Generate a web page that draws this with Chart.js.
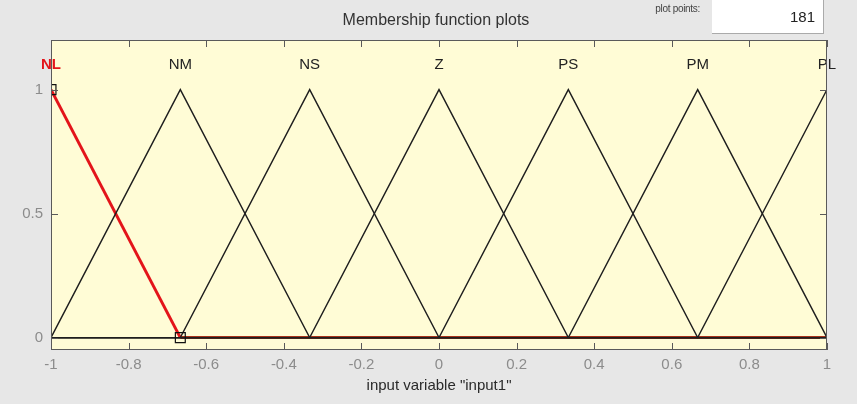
<!DOCTYPE html>
<html>
<head>
<meta charset="utf-8">
<script src="https://cdn.jsdelivr.net/npm/chart.js@4/dist/chart.umd.min.js"></script>
<style>
  html, body { margin: 0; padding: 0; background: #e7e7e7; }
  #wrap { position: relative; width: 857px; height: 404px; overflow: hidden;
          font-family: "Liberation Sans", Arial, sans-serif; }
  #chart { position: absolute; left: 0; top: 0; }
  #title { position: absolute; left: 326px; width: 220px; top: 11px; text-align: center;
           font-size: 16px; color: #333; }
  #ppLabel { position: absolute; left: 630px; width: 70px; top: 3px; text-align: right;
             font-size: 10px; color: #444; letter-spacing: -0.3px; }
  #ppBox { position: absolute; left: 712px; top: -2px; width: 112px; height: 36px;
           background: #fff; border-right: 1px solid #aaa; border-bottom: 1px solid #aaa;
           box-sizing: border-box; }
  #ppValue { position: absolute; right: 8px; top: 10px; font-size: 15px; color: #222; }
</style>
</head>
<body>
<div id="wrap">
  <canvas id="chart" width="857" height="404"></canvas>
  <div id="title">Membership function plots</div>
  <div id="ppLabel">plot points:</div>
  <div id="ppBox"><span id="ppValue">181</span></div>
</div>
<script>
// Triangular membership functions of input1: [left foot, peak, right foot]
const mfNames = ['NL', 'NM', 'NS', 'Z', 'PS', 'PM', 'PL'];
const mfLeft  = [-1.3333, -1, -0.6667, -0.3333, 0, 0.3333, 0.6667];
const mfPeak  = [-1, -0.6667, -0.3333, 0, 0.3333, 0.6667, 1];
const mfRight = [-0.6667, -0.3333, 0, 0.3333, 0.6667, 1, 1.3333];
const selectedMf = 0; // NL is highlighted

// Axis ranges and ticks
const xRange = [-1, 1];
const yRange = [-0.05, 1.2];
const xTicks = [-1, -0.8, -0.6, -0.4, -0.2, 0, 0.2, 0.4, 0.6, 0.8, 1];
const yTicks = [0, 0.5, 1];
const mfLabelLevel = 1.1;

function trimf(x, a, b, c) {
  const up = b > a ? (x - a) / (b - a) : (x >= b ? 1 : 0);
  const down = c > b ? (c - x) / (c - b) : (x <= b ? 1 : 0);
  return Math.max(Math.min(up, down), 0);
}

// Vertices of each MF over the variable range
function mfVertices(i) {
  const a = mfLeft[i], b = mfPeak[i], c = mfRight[i];
  const xs = [xRange[0], a, b, c, xRange[1]]
    .filter(x => x >= xRange[0] && x <= xRange[1])
    .sort((p, q) => p - q)
    .filter((x, k, arr) => k === 0 || x !== arr[k - 1]);
  return xs.map(x => ({ x: x, y: trimf(x, a, b, c) }));
}

const datasets = mfNames.map((name, i) => {
  const sel = i === selectedMf;
  return {
    label: name,
    data: mfVertices(i),
    borderColor: sel ? '#e3141a' : '#1e1e1e',
    borderWidth: sel ? 3 : 1.4,
    pointRadius: 0,
    tension: 0,
    order: sel ? 10 : 1,
    // flat zero part of the highlighted MF sits under the black baseline
    segment: sel ? {
      borderColor: c => (c.p0.parsed.y === 0 && c.p1.parsed.y === 0) ? '#a8321a' : undefined
    } : undefined
  };
});

// Edit handles on the selected MF's parameters
const handlePts = [mfLeft[selectedMf], mfPeak[selectedMf], mfRight[selectedMf]]
  .filter(x => x >= xRange[0] && x <= xRange[1])
  .map(x => ({ x: x, y: trimf(x, mfLeft[selectedMf], mfPeak[selectedMf], mfRight[selectedMf]) }));

datasets.push({
  label: 'handles',
  data: handlePts,
  showLine: false,
  pointStyle: 'rect',
  pointRadius: 7,
  pointBorderColor: '#111',
  pointBorderWidth: 1.2,
  pointBackgroundColor: 'rgba(0,0,0,0)',
  order: 0,
  clip: 0
});

const framePlugin = {
  id: 'frame',
  beforeDatasetsDraw(chart) {
    const { ctx, chartArea: a } = chart;
    ctx.save();
    ctx.fillStyle = '#fffcd6';
    ctx.fillRect(a.left, a.top, a.right - a.left, a.bottom - a.top);
    ctx.restore();
  },
  afterDraw(chart) {
    const { ctx, chartArea: a, scales } = chart;
    ctx.save();

    // MF names above each peak
    ctx.textAlign = 'center';
    ctx.textBaseline = 'middle';
    const ly = scales.y.getPixelForValue(mfLabelLevel);
    mfNames.forEach((name, i) => {
      const sel = i === selectedMf;
      ctx.font = (sel ? 'bold ' : '') + '15px "Liberation Sans", Arial, sans-serif';
      ctx.fillStyle = sel ? '#e3141a' : '#222';
      ctx.fillText(name, scales.x.getPixelForValue(mfPeak[i]), ly);
    });

    ctx.strokeStyle = '#5a5a5a';
    ctx.lineWidth = 1;
    ctx.strokeRect(a.left + 0.5, a.top + 0.5, a.right - a.left - 1, a.bottom - a.top - 1);
    const len = 7;
    ctx.beginPath();
    xTicks.forEach(v => {
      const px = Math.round(scales.x.getPixelForValue(v)) + 0.5;
      ctx.moveTo(px, a.bottom); ctx.lineTo(px, a.bottom - len);
      ctx.moveTo(px, a.top); ctx.lineTo(px, a.top + len);
    });
    yTicks.forEach(v => {
      const py = Math.round(scales.y.getPixelForValue(v)) + 0.5;
      ctx.moveTo(a.left, py); ctx.lineTo(a.left + len, py);
      ctx.moveTo(a.right, py); ctx.lineTo(a.right - len, py);
    });
    ctx.stroke();
    ctx.restore();
  }
};

new Chart(document.getElementById('chart'), {
  type: 'line',
  data: { datasets: datasets },
  options: {
    responsive: false,
    animation: false,
    layout: { padding: { top: 40, right: 30, left: 0, bottom: 0 } },
    plugins: { legend: { display: false }, tooltip: { enabled: false } },
    scales: {
      x: {
        type: 'linear',
        min: xRange[0], max: xRange[1],
        afterBuildTicks: s => { s.ticks = xTicks.map(v => ({ value: v })); },
        afterFit: s => { s.height = 54; },
        grid: { display: false, drawTicks: false },
        border: { display: false },
        ticks: {
          padding: 6,
          color: '#8c8c8c',
          font: { size: 15, family: '"Liberation Sans", Arial, sans-serif' },
          maxRotation: 0,
          autoSkip: false,
          callback: v => String(Math.round(v * 10) / 10)
        },
        title: {
          display: true,
          text: 'input variable "input1"',
          color: '#2a2a2a',
          font: { size: 15, family: '"Liberation Sans", Arial, sans-serif' },
          padding: { top: 2, bottom: 9 }
        }
      },
      y: {
        type: 'linear',
        min: yRange[0], max: yRange[1],
        afterBuildTicks: s => { s.ticks = yTicks.map(v => ({ value: v })); },
        afterFit: s => { s.width = 51; },
        grid: { display: false, drawTicks: false },
        border: { display: false },
        ticks: {
          padding: 8,
          color: '#8c8c8c',
          font: { size: 15, family: '"Liberation Sans", Arial, sans-serif' },
          callback: v => String(v)
        }
      }
    }
  },
  plugins: [framePlugin]
});
</script>
</body>
</html>
